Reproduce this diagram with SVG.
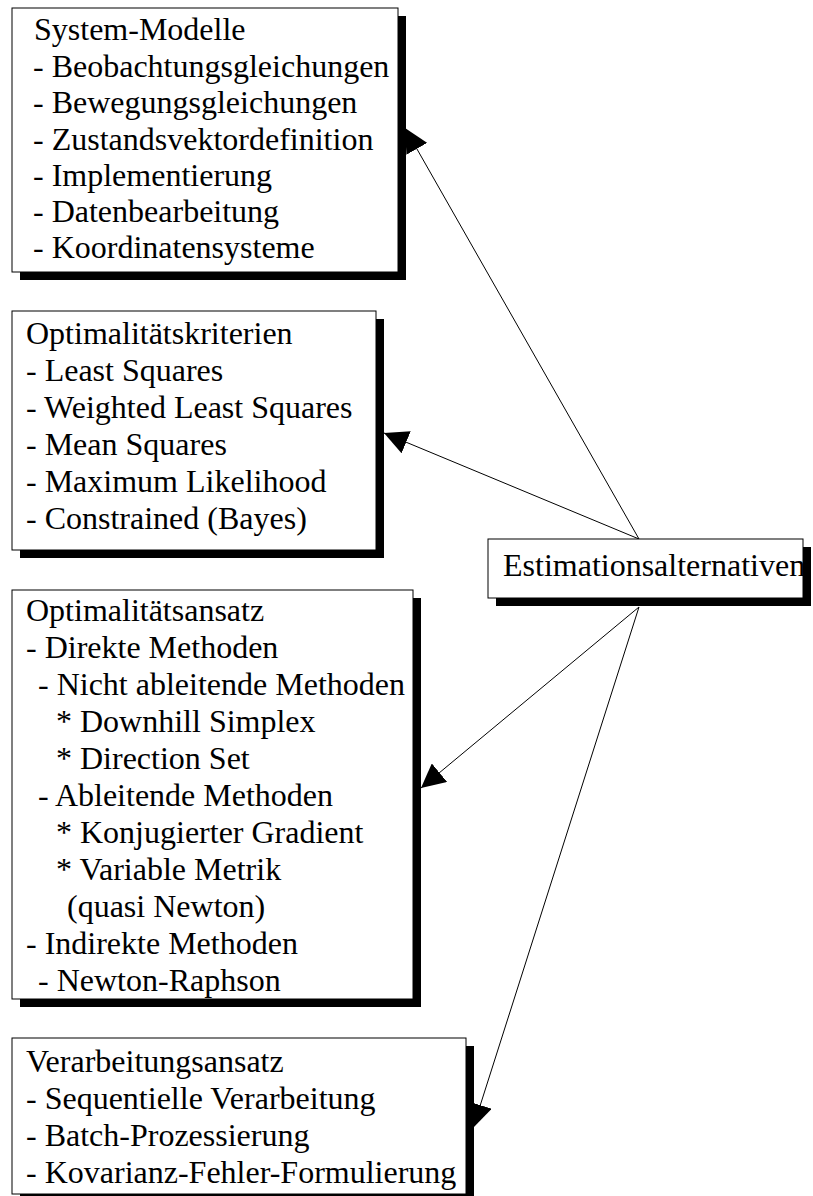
<svg xmlns="http://www.w3.org/2000/svg" width="813" height="1196" viewBox="0 0 813 1196">
<style>
.box{fill:#fff;stroke:#000;stroke-width:1}
.sh{fill:#000}
.t{font-family:"Liberation Serif","Times New Roman",serif;font-size:32px;fill:#000}
.c{stroke:#000;stroke-width:1;fill:none;marker-end:url(#ah)}
</style>
<defs>
<marker id="ah" viewBox="0 0 24 24" refX="24" refY="12" markerWidth="24" markerHeight="24" markerUnits="userSpaceOnUse" orient="auto">
<path d="M0,0 L24,12 L0,24 z" fill="#000"/>
</marker>
</defs>
<rect width="813" height="1196" fill="#fff"/>
<g id="connectors">
<line class="c" x1="639" y1="539" x2="405" y2="128"/>
<line class="c" x1="639" y1="539" x2="384" y2="433"/>
<line class="c" x1="639" y1="607" x2="421" y2="788"/>
<line class="c" x1="639" y1="607" x2="473" y2="1128"/>
</g>
<g id="system-modelle">
<rect class="sh" x="20" y="16" width="386" height="264"/>
<rect class="box" x="12" y="8" width="386" height="264"/>
<text class="t" x="34" y="40">System-Modelle</text>
<text class="t" x="33" y="77">- Beobachtungsgleichungen</text>
<text class="t" x="33" y="113">- Bewegungsgleichungen</text>
<text class="t" x="33" y="150">- Zustandsvektordefinition</text>
<text class="t" x="33" y="186">- Implementierung</text>
<text class="t" x="33" y="222">- Datenbearbeitung</text>
<text class="t" x="33" y="258">- Koordinatensysteme</text>
</g>
<g id="optimalitaetskriterien">
<rect class="sh" x="20" y="319" width="364" height="239"/>
<rect class="box" x="12" y="311" width="364" height="239"/>
<text class="t" x="26" y="344">Optimalitätskriterien</text>
<text class="t" x="26" y="381">- Least Squares</text>
<text class="t" x="26" y="418">- Weighted Least Squares</text>
<text class="t" x="26" y="455">- Mean Squares</text>
<text class="t" x="26" y="492">- Maximum Likelihood</text>
<text class="t" x="26" y="529">- Constrained (Bayes)</text>
</g>
<g id="optimalitaetsansatz">
<rect class="sh" x="20" y="598" width="401" height="409"/>
<rect class="box" x="12" y="590" width="401" height="409"/>
<text class="t" x="26" y="621">Optimalitätsansatz</text>
<text class="t" x="26" y="658">- Direkte Methoden</text>
<text class="t" x="38" y="695">- Nicht ableitende Methoden</text>
<text class="t" x="56" y="732">* Downhill Simplex</text>
<text class="t" x="56" y="769">* Direction Set</text>
<text class="t" x="38" y="806">- Ableitende Methoden</text>
<text class="t" x="56" y="843">* Konjugierter Gradient</text>
<text class="t" x="56" y="880">* Variable Metrik</text>
<text class="t" x="67" y="917">(quasi Newton)</text>
<text class="t" x="26" y="954">- Indirekte Methoden</text>
<text class="t" x="38" y="991">- Newton-Raphson</text>
</g>
<g id="verarbeitungsansatz">
<rect class="sh" x="20" y="1046" width="454" height="156"/>
<rect class="box" x="12" y="1038" width="454" height="156"/>
<text class="t" x="26" y="1072">Verarbeitungsansatz</text>
<text class="t" x="26" y="1109">- Sequentielle Verarbeitung</text>
<text class="t" x="26" y="1146">- Batch-Prozessierung</text>
<text class="t" x="26" y="1183">- Kovarianz-Fehler-Formulierung</text>
</g>
<g id="estimationsalternativen">
<rect class="sh" x="496" y="547" width="315" height="59"/>
<rect class="box" x="488" y="539" width="315" height="59"/>
<text class="t" x="503" y="576">Estimationsalternativen</text>
</g>
</svg>
